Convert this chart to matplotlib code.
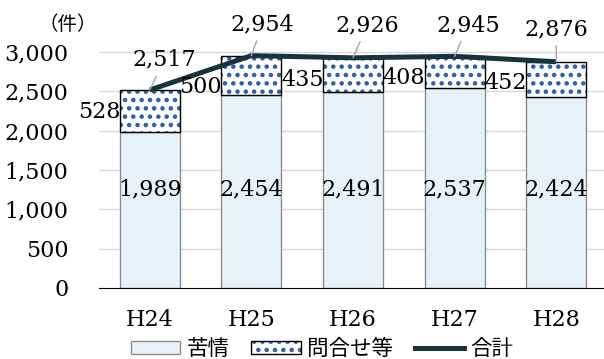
import numpy as np
import matplotlib
matplotlib.use('Agg')
import matplotlib.pyplot as plt
from matplotlib.patches import Patch
from matplotlib.lines import Line2D
from matplotlib.legend_handler import HandlerTuple

years = ['H24', 'H25', 'H26', 'H27', 'H28']
kujo = [1989, 2454, 2491, 2537, 2424]       # 苦情
toiawase = [528, 500, 435, 408, 452]        # 問合せ等
total = [2517, 2954, 2926, 2945, 2876]      # 合計
yticks = [0, 500, 1000, 1500, 2000, 2500, 3000]

serif = 'DejaVu Serif'
jp = ['Noto Sans CJK JP', 'DejaVu Sans']
plt.rcParams['hatch.linewidth'] = 2.0

fig = plt.figure(figsize=(6.04, 3.59), dpi=100)
ymax = 3400
ax = fig.add_axes([99 / 604, 71 / 359, 508 / 604, 236 * ymax / 3000 / 359])

x = np.arange(len(years))
w = 0.59
light = '#E6F2F8'
blue = '#2E5AA8'
line_c = '#17343D'
dots = '..'

ax.bar(x, kujo, w, color=light, edgecolor='#8C8C8C', linewidth=1, zorder=2)
# hatched fill first, then a black outline on top
ax.bar(x, toiawase, w, bottom=kujo, color='white', edgecolor=blue,
       hatch=dots, linewidth=0, zorder=2)
ax.bar(x, toiawase, w, bottom=kujo, fill=False, edgecolor='black', linewidth=1, zorder=3)
ax.plot(x, total, color=line_c, linewidth=3.6, zorder=4, solid_capstyle='butt')

fs = 16
# 苦情 values inside the bars
for i, v in enumerate(kujo):
    ax.text(x[i], 1250, f'{v:,}', ha='center', va='center', family=serif, fontsize=fs, zorder=5)
# 問合せ等 values to the left of each bar, nudged down away from the line
nudge = [-20, -150, -60, -70, -50]
for i, v in enumerate(toiawase):
    ax.text(x[i] - w / 2 + 0.005, kujo[i] + v / 2 + nudge[i], f'{v:,}', ha='right', va='center',
            family=serif, fontsize=fs, zorder=5)
# totals with leader lines
offs = [(0.14, 2760), (0.11, 3210), (0.14, 3200), (0.13, 3200), (0.0, 3150)]
for i, v in enumerate(total):
    dx, ty = offs[i]
    ax.annotate(f'{v:,}', xy=(x[i], v), xytext=(x[i] + dx, ty), ha='center', va='bottom',
                family=serif, fontsize=fs, zorder=5, annotation_clip=False,
                arrowprops=dict(arrowstyle='-', color='#A6A6A6', lw=1, shrinkA=2, shrinkB=0))

ax.set_xlim(-0.5, 4.5)
ax.set_ylim(0, ymax)
ax.set_yticks(yticks)
ax.set_yticklabels([f'{t:,}' for t in yticks], family=serif, fontsize=fs)
ax.set_xticks(x)
ax.set_xticklabels(years, family=serif, fontsize=fs)
ax.tick_params(axis='y', length=0, pad=22)
ax.tick_params(axis='x', length=0, pad=15)
for t in yticks:
    if t > 0:
        ax.axhline(t, color='#D9D9D9', linewidth=1, zorder=1)
for s in ['top', 'right', 'left']:
    ax.spines[s].set_visible(False)
ax.spines['bottom'].set_color('black')
ax.spines['bottom'].set_zorder(3)

fig.text(68 / 604, 1 - 25 / 359, '（件）', family=jp, fontsize=14, ha='center', va='center')

h_kujo = Patch(facecolor=light, edgecolor='#8C8C8C')
h_hatch = Patch(facecolor='white', edgecolor=blue, hatch=dots, linewidth=0)
h_edge = Patch(fill=False, edgecolor='black', linewidth=1)
h_line = Line2D([], [], color=line_c, linewidth=3.6)
fig.legend([h_kujo, (h_hatch, h_edge), h_line], ['苦情', '問合せ等', '合計'],
           handler_map={tuple: HandlerTuple(ndivide=1, pad=0)},
           loc='center', bbox_to_anchor=(322 / 604, 1 - 349 / 359), ncol=3,
           frameon=False, prop={'family': jp, 'size': 15.5}, handlelength=2.3,
           handleheight=0.55, handletextpad=0.3, columnspacing=1.0)

fig.savefig('out.png', dpi=100)
